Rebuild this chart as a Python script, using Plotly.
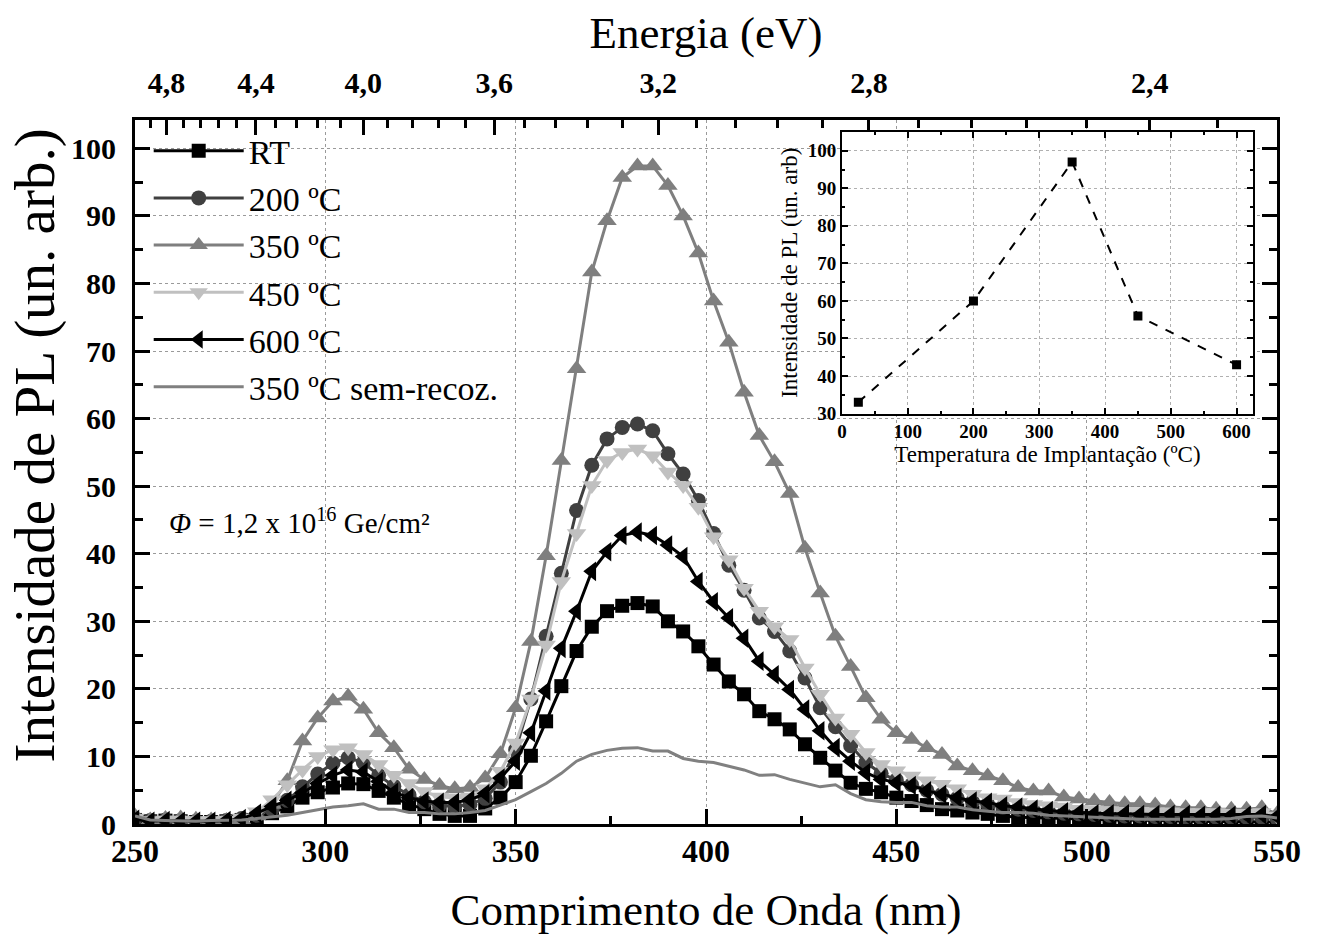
import plotly.graph_objects as go

# ---------------- data ----------------
wavelength = [250, 254, 258, 262, 266, 270, 274, 278, 282, 286, 290, 294, 298, 302, 306,
              310, 314, 318, 322, 326, 330, 334, 338, 342, 346, 350, 354, 358, 362, 366,
              370, 374, 378, 382, 386, 390, 394, 398, 402, 406, 410, 414, 418, 422, 426,
              430, 434, 438, 442, 446, 450, 454, 458, 462, 466, 470, 474, 478, 482, 486,
              490, 494, 498, 502, 506, 510, 514, 518, 522, 526, 530, 534, 538, 542, 546, 550]

pl_rt = [0.6, 0.4, 0.5, 0.4, 0.3, 0.3, 0.4, 0.6, 1.0, 1.6, 2.6, 3.9, 4.7, 5.4, 6.0,
         5.9, 4.9, 3.9, 2.9, 2.2, 1.5, 1.2, 1.2, 2.3, 3.9, 6.2, 10.1, 15.2, 20.4, 25.6,
         29.2, 31.5, 32.3, 32.7, 32.2, 30.0, 28.5, 26.3, 23.6, 21.1, 19.2, 16.7, 15.5, 14.0, 11.8,
         9.8, 7.9, 6.1, 5.2, 4.7, 3.9, 3.4, 2.8, 2.2, 2.0, 1.7, 1.5, 1.2, 1.0, 1.0,
         0.9, 0.8, 0.8, 0.7, 0.6, 0.6, 0.5, 0.5, 0.5, 0.4, 0.4, 0.4, 0.4, 0.4, 0.4, 0.3]

pl_200 = [0.8, 0.5, 0.6, 0.5, 0.4, 0.4, 0.5, 0.8, 1.3, 2.2, 3.5, 5.5, 7.4, 9.0, 9.8,
          9.1, 7.2, 5.6, 4.3, 3.3, 2.8, 2.6, 2.9, 3.8, 6.2, 11.0, 18.5, 27.8, 37.1, 46.4,
          53.1, 57.0, 58.7, 59.2, 58.2, 54.8, 51.8, 47.9, 43.0, 38.3, 34.6, 30.5, 28.5, 25.6, 21.6,
          17.2, 14.4, 11.6, 9.1, 7.5, 6.5, 5.8, 5.0, 4.4, 3.8, 3.3, 2.9, 2.5, 2.2, 2.0,
          1.8, 1.6, 1.5, 1.4, 1.3, 1.2, 1.2, 1.1, 1.1, 1.0, 1.0, 1.0, 1.0, 1.0, 1.0, 0.8]

pl_350 = [1.2, 0.6, 0.8, 0.9, 0.7, 0.6, 0.5, 0.6, 1.2, 2.9, 6.4, 12.3, 15.7, 18.2, 18.9,
          17.0, 13.5, 11.3, 8.1, 6.6, 5.7, 5.2, 5.4, 6.8, 10.4, 17.2, 27.0, 39.7, 53.8, 67.4,
          81.7, 89.3, 95.7, 97.4, 97.4, 94.5, 90.0, 84.5, 77.4, 71.3, 63.9, 57.5, 53.6, 48.9, 40.8,
          34.2, 27.8, 23.3, 18.7, 15.5, 13.5, 12.5, 11.3, 10.3, 8.6, 7.9, 7.1, 6.4, 5.4, 4.9,
          4.9, 4.0, 3.7, 3.4, 3.2, 3.0, 3.0, 2.8, 2.5, 2.4, 2.4, 2.2, 2.2, 2.2, 2.4, 1.5]

pl_450 = [0.9, 0.5, 0.6, 0.6, 0.5, 0.5, 0.6, 0.9, 1.8, 3.6, 5.8, 8.0, 10.0, 11.0, 11.3,
          10.3, 8.8, 7.2, 6.0, 4.8, 4.0, 3.9, 4.0, 5.2, 7.8, 12.0, 18.5, 26.5, 35.9, 43.0,
          50.1, 53.8, 55.0, 55.5, 54.5, 52.1, 50.1, 46.9, 42.5, 39.1, 34.9, 31.5, 29.2, 27.3, 23.1,
          19.2, 15.7, 13.3, 10.6, 8.8, 7.9, 7.1, 6.4, 5.9, 5.2, 4.4, 3.9, 3.7, 3.2, 2.9,
          2.7, 2.5, 2.2, 2.1, 2.0, 1.9, 1.9, 1.8, 1.8, 1.7, 1.7, 1.7, 1.6, 1.6, 1.7, 1.2]

pl_600 = [0.7, 0.4, 0.5, 0.4, 0.4, 0.4, 0.5, 0.8, 1.6, 2.6, 3.5, 4.6, 6.0, 7.2, 8.0,
          7.7, 6.3, 4.7, 3.9, 3.4, 3.2, 3.2, 3.6, 4.5, 6.8, 9.3, 13.5, 19.7, 26.0, 31.5,
          37.4, 40.3, 42.7, 43.2, 42.7, 41.3, 39.6, 35.9, 32.9, 30.5, 27.5, 24.1, 22.1, 19.9, 17.0,
          13.8, 11.3, 9.3, 7.6, 6.6, 6.1, 5.7, 4.9, 4.4, 3.9, 3.4, 3.2, 2.7, 2.5, 2.2,
          2.0, 1.8, 1.7, 1.5, 1.5, 1.5, 1.4, 1.4, 1.4, 1.4, 1.3, 1.3, 1.3, 1.3, 1.4, 1.1]

pl_350_sem = [1.2, 0.6, 0.5, 0.4, 0.4, 0.5, 0.5, 0.6, 0.8, 1.0, 1.3, 1.7, 2.1, 2.5, 2.7,
              3.0, 2.2, 2.2, 1.7, 1.7, 1.5, 1.5, 1.7, 2.0, 2.8, 3.6, 4.8, 6.0, 7.5, 9.3,
              10.3, 10.9, 11.2, 11.3, 10.8, 10.8, 9.7, 9.3, 9.1, 8.5, 8.0, 7.2, 7.3, 6.6, 6.1,
              5.5, 5.8, 4.5, 3.6, 3.3, 3.2, 3.2, 2.7, 2.5, 2.5, 2.1, 1.9, 1.7, 1.7, 1.6,
              1.3, 1.2, 1.0, 0.9, 0.8, 0.8, 0.7, 0.7, 0.7, 0.6, 0.6, 0.7, 0.8, 1.1, 1.2, 0.9]

series_names = ["RT", "200 ºC", "350 ºC", "450 ºC", "600 ºC"]

energy_ticks = [4.8, 4.4, 4.0, 3.6, 3.2, 2.8, 2.4]
energy_labels = ["4,8", "4,4", "4,0", "3,6", "3,2", "2,8", "2,4"]
energy_minor = [4.88, 4.72, 4.64, 4.56, 4.48, 4.32, 4.24, 4.16, 4.08, 3.92, 3.84, 3.76,
                3.68, 3.52, 3.44, 3.36, 3.28, 3.12, 3.04, 2.96, 2.88, 2.72, 2.64, 2.56,
                2.48, 2.32]
HC = 1239.84  # eV*nm

inset_temp = [25, 200, 350, 450, 600]
inset_int = [33, 60, 97, 56, 43]

# ---------------- styles ----------------
FONT = "Liberation Serif"
styles = [
    dict(color="#000000", symbol="square", size=14),
    dict(color="#404040", symbol="circle", size=15),
    dict(color="#7f7f7f", symbol="triangle-up", size=17),
    dict(color="#c0c0c0", symbol="triangle-down", size=17),
    dict(color="#000000", symbol="triangle-left", size=17),
]
all_series = [pl_rt, pl_200, pl_350, pl_450, pl_600]

fig = go.Figure()
for name, ys, st in zip(series_names, all_series, styles):
    fig.add_trace(go.Scatter(
        x=wavelength, y=ys, name=name, mode="lines+markers",
        line=dict(color=st["color"], width=3),
        marker=dict(symbol=st["symbol"], size=st["size"], color=st["color"],
                    line=dict(width=0)),
    ))

fig.add_trace(go.Scatter(
    x=wavelength, y=pl_350_sem, name="350 ºC sem-recoz.", mode="lines",
    xaxis="x2", yaxis="y",
    line=dict(color="#808080", width=3),
))

fig.add_trace(go.Scatter(
    x=inset_temp, y=inset_int, mode="lines+markers", xaxis="x3", yaxis="y3",
    showlegend=False,
    line=dict(color="black", width=2, dash="dash"),
    marker=dict(symbol="square", size=9, color="black"),
))

grid_common = dict(showgrid=True, gridcolor="#9a9a9a", gridwidth=1, griddash="dot")

fig.update_layout(
    width=1319, height=939, autosize=False,
    margin=dict(l=135, r=42, t=120, b=112),
    paper_bgcolor="white", plot_bgcolor="white",
    font=dict(family=FONT, color="black"),
    showlegend=True,
    legend=dict(x=0.012, y=0.997, xanchor="left", yanchor="top",
                bgcolor="rgba(0,0,0,0)", borderwidth=0,
                font=dict(family=FONT, size=34, color="black"),
                itemwidth=90),
    xaxis=dict(range=[250, 550], domain=[0, 1], anchor="y",
               tickmode="array", tickvals=[250, 300, 350, 400, 450, 500, 550],
               ticks="inside", ticklen=15, tickwidth=3, tickcolor="black",
               showline=True, linewidth=3, linecolor="black", mirror=True,
               tickfont=dict(family=FONT, size=32, color="black", weight="bold"),
               ticklabelstandoff=-3,
               minor=dict(dtick=25, ticks="inside", ticklen=8, tickwidth=3, tickcolor="black"),
               zeroline=False,
               title=dict(text="Comprimento de Onda (nm)", font=dict(family=FONT, size=45),
                          standoff=26),
               **grid_common),
    xaxis2=dict(range=[250, 550], overlaying="x", side="top", anchor="y",
                tickmode="array", tickvals=[HC / e for e in energy_ticks], ticktext=energy_labels,
                ticks="inside", ticklen=15, tickwidth=3, tickcolor="black",
                showline=True, linewidth=3, linecolor="black",
                tickfont=dict(family=FONT, size=30, color="black", weight="bold"),
                ticklabelstandoff=12,
                minor=dict(tickmode="array", tickvals=[HC / e for e in energy_minor],
                           ticks="inside", ticklen=8, tickwidth=3, tickcolor="black"),
                showgrid=False, zeroline=False,
                title=dict(text="Energia (eV)", font=dict(family=FONT, size=45), standoff=4)),
    yaxis=dict(range=[0, 104.2], domain=[0, 1], anchor="x",
               tickmode="array", tickvals=[0, 10, 20, 30, 40, 50, 60, 70, 80, 90, 100],
               ticks="inside", ticklen=15, tickwidth=3, tickcolor="black",
               showline=True, linewidth=3, linecolor="black", mirror="ticks",
               tickfont=dict(family=FONT, size=30, color="black", weight="bold"),
               ticklabelstandoff=10,
               minor=dict(dtick=5, ticks="inside", ticklen=8, tickwidth=3, tickcolor="black"),
               zeroline=False,
               **grid_common),
    xaxis3=dict(range=[0, 625], domain=[0.619, 0.979], anchor="y3",
                tickmode="array", tickvals=[0, 100, 200, 300, 400, 500, 600],
                ticks="inside", ticklen=6, tickwidth=1.5, tickcolor="black",
                showline=True, linewidth=1.5, linecolor="black", mirror="ticks",
                tickfont=dict(family=FONT, size=19, color="black", weight="bold"),
                minor=dict(dtick=50, ticks="inside", ticklen=3, tickwidth=1.5, tickcolor="black"),
                showgrid=True, gridcolor="#b0b0b0", gridwidth=1, griddash="dot",
                zeroline=False,
                title=dict(text="Temperatura de Implantação (ºC)", font=dict(family=FONT, size=23),
                           standoff=2)),
    yaxis3=dict(range=[30, 105], domain=[0.583, 0.983], anchor="x3",
                tickmode="array", tickvals=[30, 40, 50, 60, 70, 80, 90, 100],
                ticks="inside", ticklen=6, tickwidth=1.5, tickcolor="black",
                showline=True, linewidth=1.5, linecolor="black", mirror="ticks",
                tickfont=dict(family=FONT, size=19, color="black", weight="bold"),
                minor=dict(dtick=5, ticks="inside", ticklen=3, tickwidth=1.5, tickcolor="black"),
                showgrid=True, gridcolor="#b0b0b0", gridwidth=1, griddash="dot",
                zeroline=False,
                title=dict(text="Intensidade de PL (un. arb)", font=dict(family=FONT, size=23),
                           standoff=4)),
    annotations=[
        dict(text="Intensidade de PL (un. arb.)", xref="paper", yref="paper",
             x=-0.0876, y=0.5375, xanchor="center", yanchor="middle", textangle=-90,
             showarrow=False, font=dict(family=FONT, size=57, color="black")),
        dict(text="<i>Φ</i> = 1,2 x 10<sup>16</sup> Ge/cm²", xref="paper", yref="paper",
             x=0.028, y=0.431, xanchor="left", yanchor="middle", showarrow=False,
             font=dict(family=FONT, size=29, color="black")),
    ],
)

fig.write_html("out.html")
